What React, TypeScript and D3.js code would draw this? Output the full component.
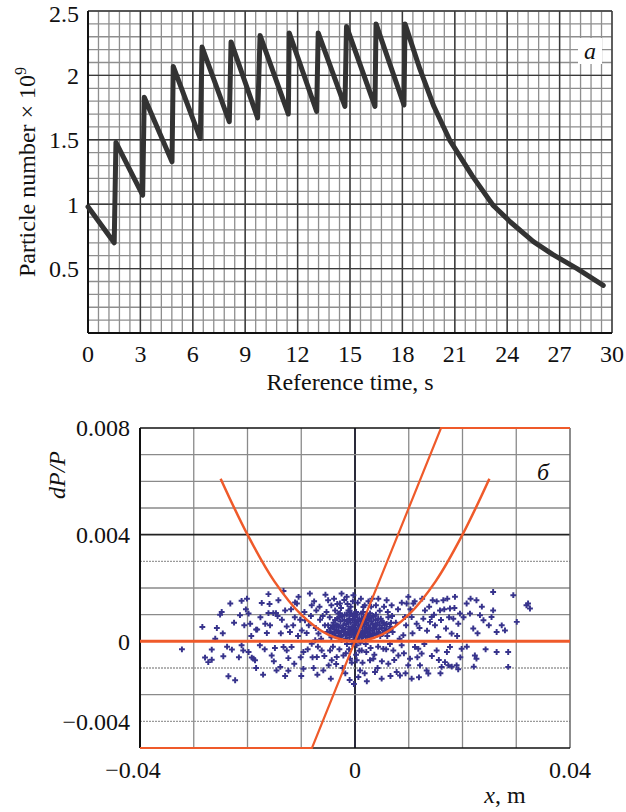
import React from "react";
import * as d3 from "d3";

// ---------- Panel a: particle number vs reference time ----------
const refTime = [0, 1.5, 1.6, 3.13, 3.22, 4.81, 4.88, 6.43, 6.53, 8.09, 8.19, 9.71, 9.85, 11.47, 11.52, 13.09, 13.18, 14.71, 14.8, 16.43, 16.49, 18.09, 18.15, 19.0, 19.8, 20.7, 22.0, 23.2, 24.2, 25.5, 26.6, 28.0, 29.5];
const particleNumber = [0.98, 0.7, 1.48, 1.07, 1.83, 1.33, 2.07, 1.51, 2.22, 1.64, 2.26, 1.67, 2.31, 1.7, 2.33, 1.72, 2.33, 1.76, 2.38, 1.76, 2.4, 1.77, 2.4, 2.05, 1.76, 1.5, 1.22, 0.99, 0.86, 0.71, 0.61, 0.5, 0.37];
const xTicksA = [0, 3, 6, 9, 12, 15, 18, 21, 24, 27, 30];
const yTicksA = [0.5, 1, 1.5, 2, 2.5];

// ---------- Panel б: dP/P vs x (values in units of 1e-3) ----------
const haloPoints: [number, number][] = [
  [-32.2, -0.3], [-28.4, 0.54], [-27.9, -0.61], [-27.3, -0.78], [-26.65, -0.69], [-25.7, 0.5], [-26.65, -0.31], [-25.1, 1.0], [-24.8, 1.1], [-24.5, -0.56],
  [-23.55, -1.31], [-23.2, 1.42], [-22.9, -0.31], [-22.3, -1.46], [-21.4, 0.98], [-21.1, -0.15], [-21.1, 1.52], [-20.8, -0.34], [-20.6, 0.6], [-20.1, 1.6],
  [-19.8, -0.4], [-19.5, 0.66], [-19.8, 1.04], [-19.2, -0.61], [-18.9, -0.65], [-18.6, -0.71], [-18.4, 0.44], [-18.2, 0.44], [-17.35, 1.44], [-17.7, -0.15],
  [-16.7, 0.66], [-16.4, 0.31], [-16.1, 1.06], [-16.1, 1.77], [-15.8, 0.6], [-15.5, -0.53], [-15.2, 1.06], [-14.9, -0.25], [-14.7, 1.06], [-14.6, -1.09],
  [-14.25, 1.54], [-13.9, -0.96], [-13.6, 0.81], [-13.3, -0.21], [-13.3, 1.89], [-13.0, 1.16], [-12.7, 0.56], [-12.7, -0.34], [-12.4, -0.63], [-12.1, 0.35],
  [-11.8, -0.21], [-11.5, 0.6], [-11.3, -0.84], [-11.15, 1.46], [-10.8, 1.42], [-10.5, 1.67], [-10.2, 0.81], [-9.9, 0.41], [-9.6, -0.4], [-9.6, -1.03],
  [-9.3, 0.79], [-9.0, 0.31], [-8.4, 1.79], [-8.05, 1.35], [-8.05, -0.09], [-7.7, -1.0], [-7.4, 0.04], [-7.2, 1.16], [-7.1, -0.59], [-6.8, 0.29],
  [-6.5, 0.81], [-6.2, -0.34], [-5.9, -1.09], [-5.6, 0.6], [-5.3, 1.1], [-5.0, 1.54], [-4.64, -0.34], [-4.33, -0.71], [-4.0, 0.6], [-3.7, 1.16],
  [-3.4, -0.59], [-3.1, 1.04], [-2.8, 1.42], [-2.5, 1.79], [-2.16, -0.53], [-1.54, 1.67], [-1.23, 1.16], [-0.92, -0.65], [-0.3, 1.73], [0.01, 0.79],
  [0.32, -0.71], [0.63, -1.34], [0.94, -1.09], [1.25, -0.34], [1.56, 1.29],
  [2.79, -0.71], [3.41, -0.65], [3.72, -1.15], [4.34, 1.6], [4.96, -1.4], [5.27, -0.28], [5.89, 1.54], [6.2, -0.84], [6.82, 1.35], [7.13, -0.34],
  [7.75, -1.15], [8.06, -0.53], [8.37, -1.28], [8.68, -0.15], [8.99, 0.23], [9.3, 0.91], [9.61, 1.42], [9.92, 1.67], [10.23, -0.65], [10.54, -1.4],
  [10.54, 0.91], [10.85, 1.42], [11.16, -0.21], [11.47, 0.66], [11.78, -0.28], [12.09, -0.9], [12.4, -0.46], [12.71, 0.85], [13.02, 1.16], [13.33, -1.09],
  [13.64, -1.21], [13.95, 0.73], [14.26, 0.91], [14.45, 1.54], [14.88, 0.6], [15.19, -0.34], [15.5, 0.16], [15.81, 1.16], [16.12, -0.96], [16.43, 1.54],
  [16.74, -0.78], [16.93, 0.48], [17.17, 1.6], [17.36, -0.9], [17.67, 1.23], [17.67, -0.21], [17.98, 0.29], [18.29, 0.85], [18.6, 1.67], [18.91, -0.9],
  [19.22, 0.66], [19.53, 1.04], [19.84, -0.28], [20.77, 1.42], [21.39, 1.04], [22.0, 0.48], [22.3, -0.53], [22.6, -0.65], [22.6, 1.54], [23.25, 0.98],
  [23.9, 0.79], [25.4, 0.91], [25.7, 1.85], [25.7, 1.16], [26.35, 0.35], [26.35, -0.4], [27.3, 0.6], [27.9, 0.41], [28.5, -0.4], [28.5, -0.96],
  [29.45, 1.73], [30.1, 0.73], [31.9, 1.35], [32.2, 1.42], [32.55, 1.23], [-0.2, -1.6], [-1.8, -1.2], [2.2, -1.5], [-3.0, 0.3], [3.0, 1.3],
  [-11.9, 1.2], [-11.2, 0.9], [-10.6, 0.2], [-10.1, -0.6], [-9.4, 1.1], [-8.8, -0.3], [-8.6, 0.6], [-8.2, 0.95], [-7.9, -0.6], [-7.6, 1.5],
  [-7.3, 0.5], [-6.9, -0.2], [-6.6, 1.3], [-6.3, 0.1], [-6.0, 0.95], [-5.7, -0.55], [-5.5, 1.75], [-5.2, 0.35], [-4.9, -0.9], [-4.7, 0.9],
  [-4.4, 1.35], [-4.1, -0.2], [-3.9, 1.6], [-3.5, -0.85], [-3.3, 1.4], [-2.9, -0.3], [-2.6, 1.25], [-2.3, -1.0], [-2.0, 1.55], [-1.7, -0.45],
  [-1.4, 1.4], [-1.1, -0.3], [-0.8, 1.3], [-0.6, -0.8], [-0.4, 1.5], [0.2, -0.5], [0.5, 1.45], [0.8, -0.35], [1.1, 1.6], [1.4, -0.8],
  [1.8, 1.35], [2.1, -0.4], [2.5, 1.5], [2.9, -0.25], [3.2, 1.6], [3.6, -0.5], [3.9, 1.35], [4.3, -0.2], [4.6, 1.15], [5.0, -0.75],
  [5.4, 1.3], [5.8, -0.3], [6.1, 1.1], [6.5, -0.1], [6.9, 0.95], [7.3, -0.7], [7.6, 0.7], [8.0, 1.2], [8.3, 0.1], [8.7, 1.45],
  [9.1, -0.45], [9.5, 0.6], [9.9, -0.9], [10.3, 1.2], [10.7, 0.3], [11.1, 1.5], [11.6, -0.6], [12.0, 0.5], [12.5, 1.6], [12.9, -0.1],
  [13.4, 0.4], [13.8, 1.3], [14.3, -0.55], [14.7, 1.0], [15.2, 1.5], [15.6, -0.7], [16.0, 0.8], [16.6, 1.2], [17.1, -0.4], [17.5, 0.9],
  [18.0, -0.95], [18.5, 1.25], [19.0, 0.2], [19.6, -0.6], [20.2, 0.9], [20.8, -0.2], [21.5, 1.6], [22.1, -0.95], [22.8, 0.3], [23.6, 1.3],
  [24.3, -0.3], [24.9, 0.6], [-12.4, -1.1], [-13.8, 0.3], [-14.4, 0.95], [-15.1, -0.75], [-15.9, 1.4], [-16.8, -0.3], [-17.6, 0.9], [-18.4, -1.0],
  [-19.3, 0.2], [-20.3, 1.2], [-21.6, -0.6], [-22.5, 0.7], [-23.8, -0.2], [-24.6, 0.3], [-26.0, 0.1], [-10.0, -1.3], [-7.0, -1.25], [-4.5, -1.4],
  [-1.0, -1.45], [1.8, -1.2], [4.2, -1.0], [6.6, -1.3], [9.4, -1.2], [11.9, -1.35], [15.9, -1.2], [19.2, -1.05], [-17.1, -1.25], [-13.0, -1.3],
];
const corePoints: [number, number][] = [
  [-4.5, 0.5], [-4.2, 0.3], [-4.0, 0.7], [-3.8, 0.45], [-3.6, 0.2], [-3.5, 0.6], [-3.3, 0.85], [-3.1, 0.35], [-3.0, 0.55], [-2.8, 0.15],
  [-2.7, 0.75], [-2.5, 0.4], [-2.4, 0.95], [-2.2, 0.6], [-2.1, 0.25], [-2.0, 0.8], [-1.8, 0.45], [-1.7, 0.1], [-1.6, 0.65], [-1.5, 1.0],
  [-1.3, 0.3], [-1.2, 0.55], [-1.1, 0.85], [-1.0, 0.15], [-0.9, 0.4], [-0.8, 0.7], [-0.7, 1.05], [-0.6, 0.25], [-0.5, 0.5], [-0.4, 0.8],
  [-0.3, 0.05], [-0.2, 0.35], [-0.1, 0.6], [0, 0.9], [0.1, 0.2], [0.2, 0.45], [0.3, 0.7], [0.4, 1.0], [0.5, 0.1], [0.6, 0.35],
  [0.7, 0.6], [0.8, 0.85], [0.9, 0.25], [1.0, 0.5], [1.1, 0.75], [1.2, 1.05], [1.3, 0.15], [1.4, 0.4], [1.5, 0.65], [1.6, 0.9],
  [1.7, 0.3], [1.8, 0.55], [1.9, 0.8], [2.0, 0.2], [2.1, 0.45], [2.2, 0.7], [2.3, 0.95], [2.4, 0.35], [2.5, 0.6], [2.6, 0.85],
  [2.8, 0.25], [2.9, 0.5], [3.0, 0.75], [3.2, 0.4], [3.3, 0.65], [3.4, 0.95], [3.6, 0.3], [3.7, 0.55], [3.8, 0.8], [4.0, 0.45],
  [4.2, 0.7], [4.4, 0.35], [4.6, 0.6], [4.8, 0.85], [5.0, 0.5], [5.3, 0.7], [5.6, 0.4], [5.9, 0.65], [6.2, 0.9], [6.5, 0.55],
  [-0.5, -0.1], [0.3, -0.15], [1.0, -0.05], [-1.5, -0.1], [2.0, -0.1], [-2.5, 0.05],
  [-4.4, 0.15], [-4.1, 0.55], [-3.9, 0.3], [-3.7, 0.8], [-3.4, 0.4], [-3.2, 0.6], [-2.9, 0.9], [-2.6, 0.2], [-2.3, 0.5], [-2.0, 0.35],
  [-1.9, 1.0], [-1.6, 0.25], [-1.4, 0.75], [-1.1, 0.45], [-0.9, 1.0], [-0.7, 0.3], [-0.4, 0.55], [-0.2, 0.95], [0.0, 0.4], [0.1, 0.7],
  [0.3, 0.25], [0.5, 0.8], [0.7, 0.15], [0.9, 0.55], [1.1, 0.3], [1.3, 0.85], [1.5, 0.2], [1.7, 0.7], [1.9, 0.4], [2.1, 1.0],
  [2.3, 0.15], [2.5, 0.3], [2.7, 0.5], [3.0, 0.2], [3.1, 0.9], [3.4, 0.25], [3.5, 0.5], [3.9, 0.6], [4.1, 0.25], [4.3, 0.85],
  [4.5, 0.45], [4.7, 0.2], [5.0, 0.75], [5.2, 0.3], [5.5, 0.6], [5.8, 0.45], [6.0, 0.2], [6.3, 0.4], [6.7, 0.7], [7.0, 0.35],
  [-4.8, 0.35], [-5.0, 0.6], [0.2, 1.1], [1.5, 1.1], [-1.0, 1.15], [2.8, 1.05], [3.9, 1.0], [-2.8, 1.05],
];
const parabolaX = [-25, -20, -15, -10, -5, 0, 5, 10, 15, 20, 25];
const parabolaY = [6.1, 4.0, 2.25, 1.0, 0.25, 0, 0.25, 1.0, 2.25, 4.0, 6.1];
const clipLineX = [-40, -8, 16, 40];
const clipLineY = [-4, -4, 8, 8];
const xTicksB = [-0.04, 0, 0.04];
const xTickTextB = ["\u22120.04", "0", "0.04"];
const yTickPosB = [0.008, 0.004, 0, -0.003];
const yTickTextB = ["0.008", "0.004", "0", "\u22120.004"];

const FONT = "'Liberation Serif', 'Times New Roman', serif";
const RED = "#ef5a2a";
const BLUE = "#37338c";
const FS = 24;

export default function App() {
  // Panel a scales
  const xA = d3.scaleLinear().domain([0, 30]).range([88, 612]);
  const yA = d3.scaleLinear().domain([0, 2.5]).range([333, 11]);
  const minorXA = d3.range(0, 51).map((i) => i * 0.6);
  const minorYA = d3.range(0, 26).map((i) => i * 0.1);
  const lineA = d3
    .line<number>()
    .x((_, i) => xA(refTime[i]))
    .y((d) => yA(d));

  // Panel b scales
  const xB = d3.scaleLinear().domain([-0.04, 0.04]).range([140, 570]);
  const yB = d3.scaleLinear().domain([-0.004, 0.008]).range([748, 428]);
  const gridXB = d3.range(-3, 4).map((i) => i * 0.01);
  const gridYB = d3.range(-3, 8).map((i) => i * 0.001);
  const dottedY = new Set([3, -1, -3]);
  const parabola = d3
    .line<number>()
    .x((_, i) => xB(parabolaX[i] / 1000))
    .y((d) => yB(d / 1000))
    .curve(d3.curveCatmullRom);
  const clipLine = d3
    .line<number>()
    .x((_, i) => xB(clipLineX[i] / 1000))
    .y((d) => yB(d / 1000));
  const cross = d3.symbol().type(d3.symbolCross).size(19)() as string;

  return (
    <svg
      width={626}
      height={812}
      style={{ position: "absolute", left: 0, top: 0, background: "#fff" }}
      fontFamily={FONT}
    >
      <rect x={0} y={0} width={626} height={812} fill="#fff" />
      {/* ===== Panel a ===== */}
      <g>
        {minorXA.map((v, i) => (
          <line key={"mx" + i} x1={xA(v)} x2={xA(v)} y1={yA(0)} y2={yA(2.5)} stroke="#8e8e8e" strokeWidth={1.3} />
        ))}
        {minorYA.map((v, i) => (
          <line key={"my" + i} x1={xA(0)} x2={xA(30)} y1={yA(v)} y2={yA(v)} stroke="#8e8e8e" strokeWidth={1.3} />
        ))}
        {xTicksA.map((v) => (
          <line key={"Mx" + v} x1={xA(v)} x2={xA(v)} y1={yA(0)} y2={yA(2.5)} stroke="#3a3a3a" strokeWidth={1.4} />
        ))}
        {yTicksA.map((v) => (
          <line key={"My" + v} x1={xA(0)} x2={xA(30)} y1={yA(v)} y2={yA(v)} stroke="#3a3a3a" strokeWidth={1.4} />
        ))}
        <line x1={xA(0)} x2={xA(0)} y1={yA(0)} y2={yA(2.5)} stroke="#111" strokeWidth={2} />
        <line x1={xA(0)} x2={xA(30)} y1={yA(0)} y2={yA(0)} stroke="#111" strokeWidth={2} />
        <path d={lineA(particleNumber) || ""} fill="none" stroke="#333" strokeWidth={5} strokeLinejoin="round" strokeLinecap="round" />
        <rect x={578} y={38} width={24} height={26} fill="#fff" />
        <text x={590} y={59} fontSize={FS} fontStyle="italic" textAnchor="middle" fill="#111">а</text>
        {yTicksA.map((v) => (
          <text key={"ty" + v} x={79} y={Math.max(yA(v), 14)} dy="0.35em" fontSize={FS} textAnchor="end" fill="#111">
            {String(v)}
          </text>
        ))}
        {xTicksA.map((v) => (
          <text key={"tx" + v} x={xA(v)} y={362} fontSize={FS} textAnchor="middle" fill="#111">
            {String(v)}
          </text>
        ))}
        <text x={350} y={390} fontSize={FS} textAnchor="middle" fill="#111">Reference time, s</text>
        <text transform="translate(35,172) rotate(-90)" fontSize={FS} textAnchor="middle" fill="#111">
          Particle number × 10<tspan dy={-9} fontSize={16}>9</tspan>
        </text>
      </g>

      {/* ===== Panel б ===== */}
      <g>
        {gridXB.map((v, i) => (
          <line
            key={"gx" + i}
            x1={xB(v)}
            x2={xB(v)}
            y1={yB(-0.004)}
            y2={yB(0.008)}
            stroke={Math.abs(v) < 1e-9 ? "#2a2a3a" : "#8a8a8a"}
            strokeWidth={Math.abs(v) < 1e-9 ? 2 : 1.3}
          />
        ))}
        {gridYB.map((v, i) => {
          const k = Math.round(v * 1000);
          if (k === 0) return null;
          return (
            <line
              key={"gy" + i}
              x1={xB(-0.04)}
              x2={xB(0.04)}
              y1={yB(v)}
              y2={yB(v)}
              stroke={k === 4 ? "#222" : dottedY.has(k) ? "#9a9a9a" : "#8a8a8a"}
              strokeWidth={k === 4 ? 1.6 : 1.3}
              strokeDasharray={dottedY.has(k) ? "2,1" : undefined}
            />
          );
        })}
        <line x1={xB(0.04)} x2={xB(0.04)} y1={yB(-0.004)} y2={yB(0.008)} stroke="#666" strokeWidth={1.5} />
        <line x1={xB(-0.04)} x2={xB(0.04)} y1={yB(0.008)} y2={yB(0.008)} stroke="#111" strokeWidth={1.6} />
        <line x1={xB(-0.04)} x2={xB(0.04)} y1={yB(-0.004)} y2={yB(-0.004)} stroke="#111" strokeWidth={1.6} />
        <line x1={xB(-0.04)} x2={xB(-0.04)} y1={yB(-0.004)} y2={yB(0.008)} stroke="#111" strokeWidth={2} />
        {haloPoints.concat(corePoints).map((p, i) => (
          <path
            key={"p" + i}
            d={cross}
            transform={`translate(${xB(p[0] / 1000)},${yB(p[1] / 1000)})`}
            fill={BLUE}
          />
        ))}
        <line x1={xB(-0.04)} x2={xB(0.04)} y1={yB(0)} y2={yB(0)} stroke={RED} strokeWidth={3} />
        <path d={clipLine(clipLineY) || ""} fill="none" stroke={RED} strokeWidth={2.2} />
        <path d={parabola(parabolaY) || ""} fill="none" stroke={RED} strokeWidth={2.5} />
        <text x={543} y={480} fontSize={FS} fontStyle="italic" textAnchor="middle" fill="#111">б</text>
        {yTickPosB.map((v, i) => (
          <text key={"by" + i} x={130} y={yB(v)} dy="0.35em" fontSize={FS} textAnchor="end" fill="#111">
            {yTickTextB[i]}
          </text>
        ))}
        {xTicksB.map((v, i) => (
          <text key={"bx" + i} x={xB(v) + (v < 0 ? -7 : 0)} y={778} fontSize={FS} textAnchor="middle" fill="#111">
            {xTickTextB[i]}
          </text>
        ))}
        <text x={505} y={803} fontSize={FS} textAnchor="middle" fill="#111">
          <tspan fontStyle="italic">x</tspan>, m
        </text>
        <text transform="translate(65,475) rotate(-90)" fontSize={FS} textAnchor="middle" fontStyle="italic" fill="#111">
          dP/P
        </text>
      </g>
    </svg>
  );
}
